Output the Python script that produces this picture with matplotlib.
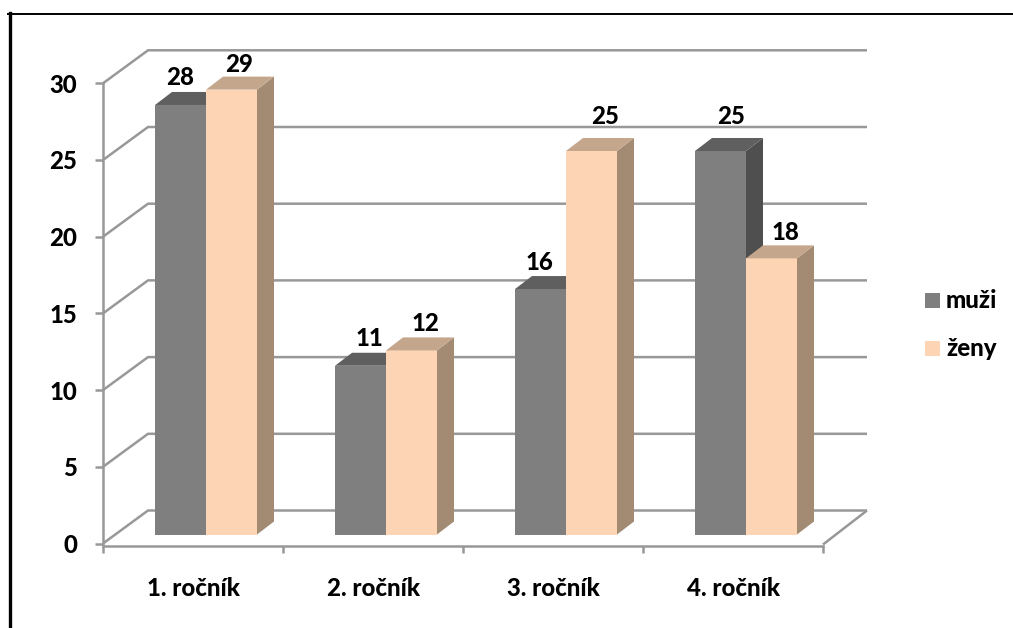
import matplotlib
matplotlib.use('Agg')
import matplotlib.pyplot as plt
from matplotlib.patches import Polygon
from matplotlib.transforms import Affine2D

categories = ['1. ročník', '2. ročník', '3. ročník', '4. ročník']
muzi = [28, 11, 16, 25]
zeny = [29, 12, 25, 18]
y_ticks = [0, 5, 10, 15, 20, 25, 30]

# hand placed value labels, pixels from the default spot
muzi_nudge = [(-8, 0), (1, 0), (-9, 0), (3, 7)]
zeny_nudge = [(0, -2), (6, 0), (6, 7), (6, -1)]

W, H = 1013, 628
GRID = '#989898'
FS = 17.3
WEIGHT = 'black'
plt.rcParams['font.family'] = ['Lato', 'DejaVu Sans']

fig = plt.figure(figsize=(W / 100, H / 100), dpi=100)

# axes box is the front plane of the 3D chart, in pixels
left, right, bottom, top = 103, 823, 543.5, 83.3
ax = fig.add_axes([left / W, 1 - bottom / H, (right - left) / W, (bottom - top) / H])
ax.set_xlim(0, 4)
ax.set_ylim(0, 30)
ax.patch.set_alpha(0)
for s in ['top', 'right']:
    ax.spines[s].set_visible(False)
for s in ['left', 'bottom']:
    ax.spines[s].set_color(GRID)
    ax.spines[s].set_linewidth(1.8)
ax.spines['bottom'].set_position(('outward', 1.5))

ax.set_xticks(range(5))
ax.set_xticklabels([])
ax.set_yticks(y_ticks)
ax.tick_params(axis='x', length=5, width=1.8, color=GRID, direction='out')
ax.tick_params(axis='y', length=6, width=1.8, color=GRID, direction='out', pad=12.5)
for lab in ax.get_yticklabels():
    lab.set_fontsize(FS)
    lab.set_fontweight(WEIGHT)
    lab.set_color('black')

for i, c in enumerate(categories):
    ax.annotate(c, (i + 0.5, 0), xytext=(0, -45), textcoords='offset pixels',
                ha='center', va='center', fontsize=FS, fontweight=WEIGHT)

# depth of the back wall in pixels, y up
wall = (45, 33)

def to_px(x, y):
    return ax.transData.transform((x, y))

# back wall and floor drawn in display space
grid_kw = dict(color=GRID, lw=1.8, transform=None, clip_on=False, zorder=1, solid_capstyle='butt')
for v in y_ticks:
    x0, y0 = to_px(0, v)
    x1, y1 = to_px(4, v)
    ax.plot([x0, x0 + wall[0], x1 + wall[0] - 1], [y0, y0 + wall[1], y1 + wall[1]], **grid_kw)
x1, y1 = to_px(4, 0)
ax.plot([x1, x1 + wall[0] - 1], [y1 - 1, y1 + wall[1]], **grid_kw)

# bars stand a little behind the front edge
bar_trans = ax.transData + Affine2D().translate(0, 9)
bar_w = 51 / 180
gap_left = 52 / 180
depth = (17, 13)

def draw_bar(x, v, front, topc, side, z):
    ax.bar(x, v, bar_w, align='edge', color=front, transform=bar_trans, zorder=z, clip_on=False)
    x0, y0 = bar_trans.transform((x, 0))
    x1, y1 = bar_trans.transform((x + bar_w, v))
    dx, dy = depth
    ax.add_patch(Polygon([(x1, y0), (x1 + dx, y0 + dy), (x1 + dx, y1 + dy), (x1, y1)],
                         closed=True, fc=side, ec='none', transform=None, clip_on=False, zorder=z))
    ax.add_patch(Polygon([(x0, y1), (x0 + dx, y1 + dy), (x1 + dx, y1 + dy), (x1, y1)],
                         closed=True, fc=topc, ec='none', transform=None, clip_on=False, zorder=z))

def value_label(x, v, nudge):
    cx, cy = bar_trans.transform((x + bar_w / 2, v))
    ax.annotate(str(v), (cx + 8 + nudge[0], cy + 27 + nudge[1]), xycoords='figure pixels',
                ha='center', va='center', fontsize=FS, fontweight=WEIGHT, zorder=6)

for i in range(4):
    x_m = i + gap_left
    x_z = x_m + bar_w
    draw_bar(x_m, muzi[i], '#7f7f7f', '#5f5f5f', '#4f4f4f', 3)
    draw_bar(x_z, zeny[i], '#fdd5b4', '#c4a68c', '#a38a72', 4)
    value_label(x_m, muzi[i], muzi_nudge[i])
    value_label(x_z, zeny[i], zeny_nudge[i])

# legend
fig.patches.append(plt.Rectangle((925 / W, 1 - 308 / H), 15 / W, 15 / H, fc='#7f7f7f',
                                 transform=fig.transFigure))
fig.patches.append(plt.Rectangle((925 / W, 1 - 356 / H), 15 / W, 15 / H, fc='#fdd5b4',
                                 transform=fig.transFigure))
fig.text(946 / W, 1 - 301 / H, 'muži', fontsize=FS, fontweight=WEIGHT, va='center')
fig.text(946 / W, 1 - 349 / H, 'ženy', fontsize=FS, fontweight=WEIGHT, va='center')

# outer frame
fig.add_artist(plt.Line2D([9.5 / W, 9.5 / W], [0, 1 - 13 / H], color='black', lw=2.4))
fig.add_artist(plt.Line2D([8 / W, 1], [1 - 14 / H, 1 - 14 / H], color='black', lw=1.4))

fig.savefig('out.png', dpi=100)
